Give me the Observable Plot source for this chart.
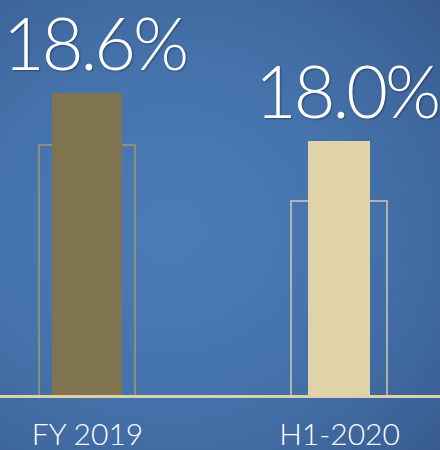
<!DOCTYPE html>
<html>
<head>
<meta charset="utf-8">
<script src="https://cdn.jsdelivr.net/npm/d3@7"></script>
<script src="https://cdn.jsdelivr.net/npm/@observablehq/plot@0.6"></script>
<style>
  html, body { margin: 0; padding: 0; }
  body {
    width: 440px; height: 450px; overflow: hidden;
    background: radial-gradient(ellipse 420px 380px at 170px 230px, #4b7cb7 0%, #4572ab 45%, #3c6398 75%, #2f4b78 110%);
  }
  #chart svg { display: block; background: transparent; }
  #chart g[aria-label="text"] text {
    letter-spacing: -3px;
    text-shadow: 1px 1px 2px rgba(0,0,0,0.35);
  }
</style>
</head>
<body>
<div id="chart"></div>
<script>
const categories = ["FY 2019", "H1-2020"];
const values = [18.6, 18.0];
const outlineValues = [17.95, 17.25];
const valueLabels = ["18.6%", "18.0%"];
const barColors = ["#7f7350", "#e0d3a8"];
const outlineColors = ["#a8976a", "#cfcbb8"];

const data = categories.map((c, i) => ({
  cat: c, value: values[i], outline: outlineValues[i],
  label: valueLabels[i], color: barColors[i], ocolor: outlineColors[i]
}));

const yMin = 14.8125;
const font = "Lato, 'Open Sans', sans-serif";

const chart = Plot.plot({
  width: 440,
  height: 450,
  marginTop: 0,
  marginRight: 0,
  marginLeft: 0,
  marginBottom: 54,
  style: { background: "transparent", fontFamily: font },
  x: { type: "band", domain: categories, paddingInner: 0.62, paddingOuter: 0.18, align: 0.418, axis: null },
  y: { domain: [yMin, yMin + 396 / 80], axis: null },
  marks: [
    Plot.rectY(data, { x: "cat", y1: yMin, y2: "outline", fill: "none", stroke: "ocolor", strokeWidth: 1.5 }),
    Plot.barY(data.filter((d, i) => i === 0), { x: "cat", y1: yMin, y2: "value", fill: "color", insetLeft: 13, insetRight: 13 }),
    Plot.barY(data.filter((d, i) => i === 1), { x: "cat", y1: yMin, y2: "value", fill: "color", insetLeft: 17, insetRight: 17 }),
    Plot.ruleY([yMin], { stroke: "#ddd1a8", strokeWidth: 3 }),
    Plot.text(data, { x: "cat", y: "value", text: "label", dy: -24, dx: 7, lineAnchor: "bottom",
      fill: "white", fontSize: 72, fontWeight: 300, fontFamily: font }),
    Plot.axisX({ tickSize: 0, tickPadding: 27, fontSize: 30, fontWeight: 300, fill: "white", fontFamily: font, label: null })
  ]
});
document.getElementById("chart").appendChild(chart);
</script>
</body>
</html>
